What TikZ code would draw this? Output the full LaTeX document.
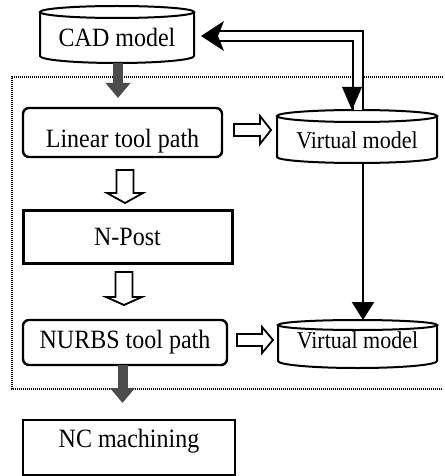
\documentclass[tikz,border=0pt]{standalone}
\usepackage{fontspec}
\setmainfont{Liberation Serif}
\usepackage{graphicx}
\usetikzlibrary{arrows.meta,calc}
\tikzset{
 base/.style={inner sep=0pt, outer sep=0pt, align=center, font=\fontsize{24}{26}\selectfont, text depth=0pt},
 cylnode/.style={base, font=\fontsize{22}{24}\selectfont},
 rbox/.style={base, draw, line width=2.4pt, rounded corners=6pt},
 sbox/.style={base, draw, line width=3pt},
 nbox/.style={base, draw, line width=1.5pt},
 cylline/.style={line width=2pt},
 openarr/.style={draw, line width=1.8pt, fill=white, line join=miter},
 grayarr/.style={line width=10pt, draw=black!70, -{Triangle[length=15pt,width=24pt]}},
 dblline/.style={line width=2.6pt, double=white, double distance=7.4pt},
 framebox/.style={line width=1.3pt, dash pattern=on 1pt off 1pt},
 linkarr/.style={line width=2.4pt, -{Triangle[length=18pt,width=22pt]}},
}
\newcommand\sx[1]{\scalebox{1}[1.1]{#1}}
\newcommand\cylout[4]{%
 \draw[cylline] ([yshift=-#3pt]#1.north) ellipse [x radius=#2pt, y radius=#3pt];
 \draw[cylline] ([yshift=-#3pt]#1.north west) -- ([yshift=#4pt]#1.south west)
   arc[start angle=180, end angle=360, x radius=#2pt, y radius=#4pt]
   -- ([yshift=-#3pt]#1.north east);
}
\begin{document}
\begin{tikzpicture}[x=1pt,y=-1pt]
\useasboundingbox (0,0) rectangle (444,476);
\draw[framebox] (443,77) -- (12,77) -- (12,389) -- (443,389);

% nodes
\node[base, minimum width=154pt, minimum height=57pt, text height=25pt] (cad) at (117,34.5) {\sx{CAD model}};
\node[rbox, minimum width=199pt, minimum height=49pt, text height=29pt] (linear) at (122.5,132.5) {\sx{Linear tool path}};
\node[sbox, minimum width=209pt, minimum height=53pt, text height=17pt] (npost) at (127.5,236.5) {\sx{N-Post}};
\node[rbox, minimum width=204pt, minimum height=45pt, text height=11pt] (nurbs) at (125,342.5) {\sx{NURBS tool path}};
\node[nbox, minimum width=212pt, minimum height=55pt, text height=0pt] (nc) at (129,447.5) {\sx{NC machining}};
\node[cylnode, minimum width=160pt, minimum height=53pt, text height=23pt] (vm1) at (357,136.5) {\sx{Virtual model}};
\node[cylnode, minimum width=159pt, minimum height=48pt, text height=8pt] (vm2) at (357.5,344) {\sx{Virtual model}};

\cylout{cad}{77}{6}{7}
\cylout{vm1}{80}{6}{6}
\cylout{vm2}{79.5}{5}{7}

% gray arrows
\coordinate (g1s) at ([xshift=1pt]cad.south);
\coordinate (g1e) at ($(g1s)+(0,35)$);
\draw[grayarr] (g1s) -- (g1e);
\coordinate (g2s) at ([xshift=-2.5pt]nurbs.south);
\coordinate (g2e) at ($(g2s)+(0,38)$);
\draw[grayarr] (g2s) -- (g2e);

% open down arrows
\coordinate (d1) at ([xshift=2.5pt,yshift=-13pt]linear.south);
\draw[openarr] (d1) +(-8.5,0) -- +(-8.5,23) -- +(-18,23) -- +(0,33) -- +(18,23) -- +(8.5,23) -- +(8.5,0) -- cycle;
\coordinate (d2) at ([xshift=-3.5pt,yshift=-9pt]npost.south);
\draw[openarr] (d2) +(-8.5,0) -- +(-8.5,25) -- +(-18,25) -- +(0,33) -- +(18,25) -- +(8.5,25) -- +(8.5,0) -- cycle;

% open right arrows
\coordinate (r1) at ([xshift=12pt,yshift=2.5pt]linear.east);
\draw[openarr] (r1) +(0,-6) -- +(26,-6) -- +(26,-14) -- +(37,0) -- +(26,14) -- +(26,6) -- +(0,6) -- cycle;
\coordinate (r2) at ([xshift=10pt,yshift=2.5pt]nurbs.east);
\draw[openarr] (r2) +(0,-6) -- +(25,-6) -- +(25,-13) -- +(36,0) -- +(25,13) -- +(25,6) -- +(0,6) -- cycle;

% double connector between virtual model and CAD model
\coordinate (dA) at ([xshift=1pt]vm1.north);
\coordinate (dB) at ([xshift=21pt,yshift=-1.5pt]cad.east);
\draw[dblline] (dA) |- (dB);
\coordinate (tc) at ([xshift=7pt,yshift=-1.5pt]cad.east);
\fill (tc) -- +(23,-15) -- +(17,0) -- +(23,15) -- cycle;
\coordinate (tv) at ([xshift=-5pt]vm1.north);
\fill (tv) -- +(-10,-23) -- +(10,-23) -- cycle;

% virtual model to virtual model
\draw[linkarr] ([xshift=6pt]vm1.south) -- ([xshift=5.5pt]vm2.north);
\end{tikzpicture}
\end{document}
